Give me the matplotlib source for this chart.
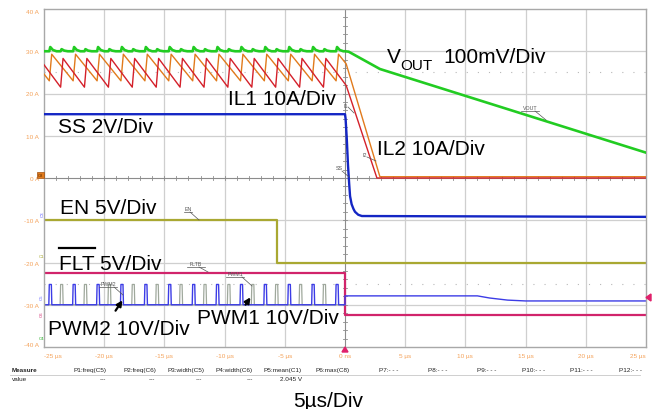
import matplotlib
matplotlib.use("Agg")
import matplotlib.pyplot as plt
from matplotlib.patches import Polygon, Rectangle
from matplotlib.lines import Line2D

plt.rcParams['font.family'] = ['Liberation Sans', 'DejaVu Sans']

# ---------------- data ----------------
x_ticks = [-25, -20, -15, -10, -5, 0, 5, 10, 15, 20, 25]
x_tick_labels = ['-25 µs', '-20 µs', '-15 µs', '-10 µs', '-5 µs', '0 ns',
                 '5 µs', '10 µs', '15 µs', '20 µs', '25 µs']
y_ticks = [40, 30, 20, 10, 0, -10, -20, -30, -40]
y_tick_labels = ['40 A', '30 A', '20 A', '10 A', '0 A', '-10 A', '-20 A', '-30 A', '-40 A']

# IL2 (orange) inductor current
il2_t = [-25.00, -24.56, -24.36, -22.58, -22.38, -20.59, -20.39, -18.61, -18.41,
         -16.62, -16.42, -14.64, -14.44, -12.65, -12.45, -10.67, -10.47, -8.68, -8.48,
         -6.70, -6.50, -4.71, -4.51, -2.73, -2.53, -0.74, -0.54, 0.10, 2.90, 25.00]
il2_v = [24.6, 23.0, 29.3, 23.0, 29.3, 23.0, 29.3, 23.0, 29.3,
         23.0, 29.3, 23.0, 29.3, 23.0, 29.3, 23.0, 29.3, 23.0, 29.3,
         23.0, 29.3, 23.0, 29.3, 23.0, 29.3, 23.0, 29.3, 27.0, 0.3, 0.3]

# IL1 (red) inductor current
il1_t = [-25.00, -23.62, -23.42, -21.64, -21.44, -19.65, -19.45, -17.67, -17.47,
         -15.68, -15.48, -13.70, -13.50, -11.71, -11.51, -9.73, -9.53, -7.74, -7.54,
         -5.76, -5.56, -3.77, -3.57, -1.79, -1.59, 0.10, 2.65, 25.00]
il1_v = [26.8, 21.5, 28.3, 21.5, 28.3, 21.5, 28.3, 21.5, 28.3,
         21.5, 28.3, 21.5, 28.3, 21.5, 28.3, 21.5, 28.3, 21.5, 28.3,
         21.5, 28.3, 21.5, 28.3, 21.5, 28.3, 21.9, 0.0, 0.0]

# VOUT (green): slow envelope + switching spikes
vout_t = [-25.0, 0.0, 0.3, 2.9, 25.0]
vout_v = [30.0, 30.0, 29.9, 25.8, 6.0]
vout_spike_t = [-24.56, -22.58, -20.59, -18.61, -16.62, -14.64, -12.65, -10.67, -8.68,
                -6.70, -4.71, -2.73, -0.74,
                -23.62, -21.64, -19.65, -17.67, -15.68, -13.70, -11.71, -9.73, -7.74,
                -5.76, -3.77, -1.79]
vout_spike_h = [1.0, 1.0, 1.0, 1.0, 1.0, 1.0, 1.0, 1.0, 1.0, 1.0, 1.0, 1.0, 1.0,
                0.5, 0.5, 0.5, 0.5, 0.5, 0.5, 0.5, 0.5, 0.5, 0.5, 0.5, 0.5]

# SS (dark blue)
ss_t = [-25.0, 0.0, 0.05, 0.15, 0.25, 0.35, 0.42, 0.55, 0.70, 0.83, 1.10, 1.40, 25.0]
ss_v = [15.1, 15.1, 14.0, 9.2, 3.0, -1.5, -4.3, -6.2, -7.3, -8.0, -8.7, -9.0, -9.2]

# EN (olive)
en_t = [-25.0, -5.65, -5.65, 25.0]
en_v = [-10.0, -10.0, -20.0, -20.0]

# FLT (magenta)
flt_t = [-25.0, 0.0, 0.0, 25.0]
flt_v = [-22.4, -22.4, -32.4, -32.4]

# PWM signals
pwm_low_high = [-30.0, -25.2]
pwm_width = 0.25
pwm1_on = [-24.60, -22.62, -20.63, -18.65, -16.66, -14.68, -12.69, -10.71, -8.72,
           -6.74, -4.75, -2.77, -0.78]
pwm2_on = [-23.66, -21.68, -19.69, -17.71, -15.72, -13.74, -11.75, -9.77, -7.78,
           -5.80, -3.81, -1.83]
pwm1_after_t = [0.0, 11.0, 12.0, 13.5, 15.0, 25.0]
pwm1_after_v = [-27.9, -27.9, -28.4, -28.9, -29.1, -29.1]

measure_names = ['P1:freq(C5)', 'P2:freq(C6)', 'P3:width(C5)', 'P4:width(C6)',
                 'P5:mean(C1)', 'P6:max(C8)', 'P7:- - -', 'P8:- - -', 'P9:- - -',
                 'P10:- - -', 'P11:- - -', 'P12:- - -']
measure_values = ['---', '---', '---', '---', '2.045 V']

# ---------------- figure ----------------
W, H = 654, 410
fig = plt.figure(figsize=(W / 100, H / 100), dpi=100)
fig.patch.set_facecolor('white')
L, R, T, B = 44, 646, 10, 348
ax = fig.add_axes([L / W, (H - B) / H, (R - L) / W, (B - T) / H])
ax.set_xlim(-25, 25)
ax.set_ylim(-40, 40)

tick_col = '#f4a25a'
ax.set_xticks(x_ticks)
ax.set_xticklabels(x_tick_labels)
ax.set_yticks(y_ticks)
ax.set_yticklabels(y_tick_labels)
ax.tick_params(axis='both', length=0, labelsize=4.6, labelcolor=tick_col)
ax.tick_params(axis='x', pad=4)
ax.tick_params(axis='y', pad=3.5)
xl = ax.get_xticklabels()
xl[0].set_ha('left')
xl[-1].set_ha('right')
yl = ax.get_yticklabels()
yl[0].set_va('top')
yl[-1].set_va('bottom')
for s in ax.spines.values():
    s.set_color('#a8a8a8')
    s.set_linewidth(1.0)

# grid
grid_col = '#cfcfcf'
for x in x_ticks[1:-1]:
    if x != 0:
        ax.axvline(x, color=grid_col, lw=0.9, zorder=0)
for y in y_ticks[1:-1]:
    if y != 0:
        ax.axhline(y, color=grid_col, lw=0.9, zorder=0)
for y in (25, -25):
    ax.axhline(y, color='#b8b8b8', lw=0.8, ls=(0, (1, 9)), zorder=0)
ax.axhline(0, color='#8c8c8c', lw=0.8, zorder=0.5)
ax.axvline(0, color='#8c8c8c', lw=0.8, zorder=0.5)
for i in range(-25, 26):
    ax.plot([i, i], [-0.45, 0.45], color='#8c8c8c', lw=0.6, zorder=0.5)
for j in range(-40, 41, 2):
    ax.plot([-0.17, 0.17], [j, j], color='#8c8c8c', lw=0.6, zorder=0.5)

# traces
ax.plot(en_t, en_v, color='#a9a832', lw=1.6, zorder=2)
ax.plot(flt_t, flt_v, color='#d1246b', lw=1.6, zorder=2)


def pulses(on_times, width, low, high):
    t, v = [-25.0], [low]
    for ton in on_times:
        t += [ton, ton + 0.04, ton + width - 0.04, ton + width]
        v += [low, high, high, low]
    t.append(0.0)
    v.append(low)
    return t, v


p2t, p2v = pulses(pwm2_on, pwm_width, pwm_low_high[0], pwm_low_high[1])
ax.plot(p2t, p2v, color='#9fa89c', lw=0.9, zorder=2.2)
p1t, p1v = pulses(pwm1_on, pwm_width, pwm_low_high[0], pwm_low_high[1])
p1t += pwm1_after_t
p1v += pwm1_after_v
ax.plot(p1t, p1v, color='#3c3ce6', lw=1.0, zorder=2.3)

ax.plot(ss_t, ss_v, color='#1426c4', lw=1.7, zorder=3)
ax.plot(il2_t, il2_v, color='#e17a1c', lw=1.0, zorder=3.2)
ax.plot(il1_t, il1_v, color='#d4202a', lw=1.0, zorder=3.3)

base = vout_v[0]
vt, vv = [vout_t[0]], [base]
for ts, h in sorted(zip(vout_spike_t, vout_spike_h)):
    vt += [ts, ts + 0.08, ts + 0.3, ts + 0.6]
    vv += [base, base + h, base + 0.3 * h, base]
vt += vout_t[1:]
vv += vout_v[1:]
ax.plot(vt, vv, color='#22cc22', lw=1.9, zorder=4)


# ---------------- annotations (pixel layout) ----------------
def F(x, y):
    return (x / W, 1 - y / H)


def ftext(x, y, s, **kw):
    fx, fy = F(x, y)
    return fig.text(fx, fy, s, **kw)


big = dict(fontsize=15, color='black', ha='left', va='baseline')
ftext(387, 63, 'V', **big)
ftext(400, 70, 'OUT', fontsize=11, color='black', ha='left', va='baseline')
ftext(443, 63, '100mV/Div', **big)
ftext(228, 105, 'IL1 10A/Div', **big)
ftext(58, 133, 'SS 2V/Div', **big)
ftext(377, 155, 'IL2 10A/Div', **big)
ftext(60, 214, 'EN 5V/Div', **big)
ftext(59, 270, 'FLT 5V/Div', **big)
fig.add_artist(Line2D([59 / W, 95 / W], [1 - 249 / H, 1 - 249 / H], color='black', lw=1.6))
ftext(48, 335, 'PWM2 10V/Div', **big)
ftext(197, 324, 'PWM1 10V/Div', **big)
ftext(293, 407, '5µs/Div', **big)


def flabel(s, x, y, x1, y1, x2, y2, underline=True):
    ftext(x, y, s, fontsize=3.8, color='#555555', ha='center', va='center')
    if underline:
        w = len(s) * 2.2
        fig.add_artist(Line2D([(x - w) / W, (x + w) / W], [1 - (y + 3) / H] * 2,
                              color='#555555', lw=0.5))
    fig.add_artist(Line2D([x1 / W, x2 / W], [1 - y1 / H, 1 - y2 / H], color='#555555', lw=0.5))


flabel('VOUT', 530, 109, 535, 112, 546, 121)
flabel('I1', 346, 106, 348, 108, 354, 114, underline=False)
flabel('I2', 365, 156, 367, 158, 376, 162, underline=False)
flabel('SS', 339, 169, 342, 172, 349, 178, underline=False)
flabel('EN', 188, 210, 190, 213, 199, 221)
flabel('FLTB', 196, 265, 199, 268, 208, 273)
flabel('PWM1', 235, 275, 242, 278, 252, 287)
flabel('PWM2', 108, 285, 114, 288, 123, 296)

for (x0, y0, x1, y1) in [(114, 314, 124, 299), (244, 308, 252, 296)]:
    fig.add_artist(matplotlib.patches.FancyArrowPatch(
        F(x0, y0), F(x1, y1), transform=fig.transFigure, arrowstyle='-|>',
        mutation_scale=8, lw=1.6, color='black'))

# channel markers on left
fig.add_artist(Rectangle(F(37, 179), 7 / W, 6 / H, transform=fig.transFigure,
                         facecolor='#e07a1c', edgecolor='#a05010', lw=0.5))
ftext(40.5, 176, 'C8', fontsize=3, color='#5a2a00', ha='center', va='center')
ftext(42.5, 214, 'C3', fontsize=3.2, color='#5555ff', ha='center', va='center', rotation=90)
ftext(42, 257, 'C1', fontsize=3.2, color='#a9a832', ha='center', va='center')
ftext(41.5, 297, 'C5', fontsize=3.2, color='#6060ff', ha='center', va='center', rotation=90)
ftext(41.5, 314, 'C6', fontsize=3.2, color='#d1246b', ha='center', va='center', rotation=90)
ftext(42, 339, 'C4', fontsize=3.2, color='#22aa22', ha='center', va='center')

# trigger markers
fig.add_artist(Polygon([F(342, 353), F(348, 353), F(345, 348)], closed=True,
                       transform=fig.transFigure, color='#e0206a'))
fig.add_artist(Polygon([F(651, 295), F(651, 302), F(646, 298.5)], closed=True,
                       transform=fig.transFigure, color='#e0206a'))

# measurement table
tbl = dict(fontsize=4.6, color='#222222', va='center')
ftext(12, 371, 'Measure', fontweight='bold', ha='left', **tbl)
ftext(12, 380, 'value', ha='left', **tbl)
fig.add_artist(Line2D([10 / W, 640 / W], [1 - 375.5 / H] * 2, color='#c8c8c8', lw=0.6))
name_x = [73, 123, 167, 215, 263, 316, 379, 428, 477, 522, 570, 619]
for nx, nm in zip(name_x, measure_names):
    ftext(nx, 371, nm, ha='left', **tbl)
val_right = [106, 155, 202, 253, 302]
for vx, vs in zip(val_right, measure_values):
    ftext(vx, 380, vs, ha='right', **tbl)

fig.savefig('out.png', dpi=100, facecolor='white')
